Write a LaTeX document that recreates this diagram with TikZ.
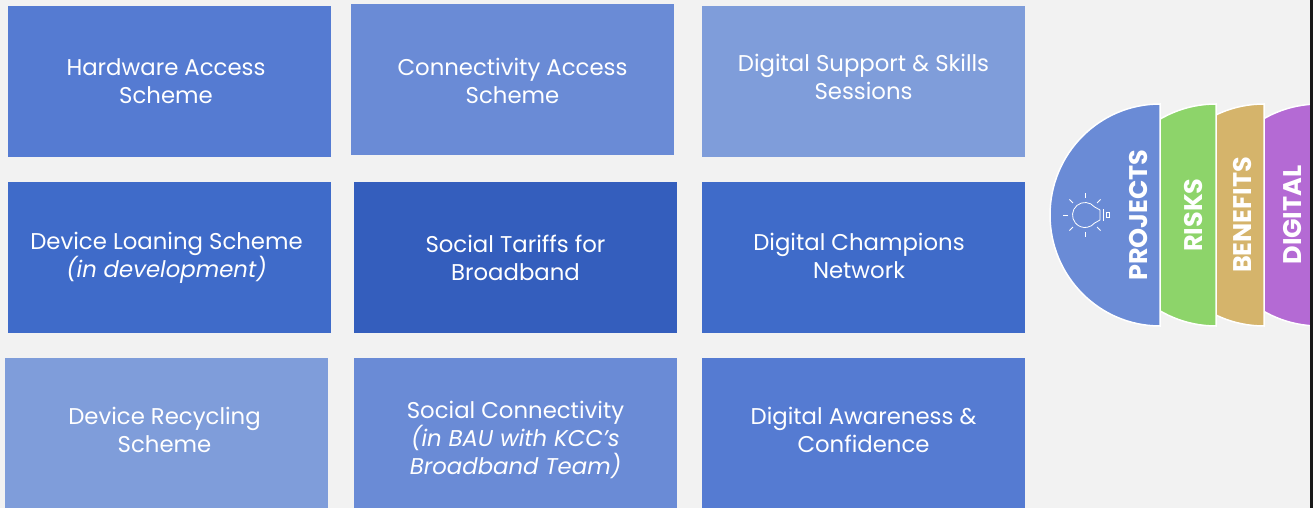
\documentclass[tikz,border=0pt]{standalone}
\usepackage{fontspec}
\setmainfont{Poppins}
\definecolor{bg}{HTML}{F2F2F2}
\definecolor{tileA}{HTML}{557BD2}
\definecolor{tileB}{HTML}{6A8BD6}
\definecolor{tileC}{HTML}{7F9DDA}
\definecolor{tileD}{HTML}{3F6BC9}
\definecolor{tileE}{HTML}{345EBD}
\definecolor{riskcol}{HTML}{8DD46A}
\definecolor{benefitcol}{HTML}{D5B46B}
\definecolor{digitalcol}{HTML}{B46AD4}
\definecolor{edge}{HTML}{1A1A1A}

\begin{document}
\begin{tikzpicture}[x=1pt,y=1pt,
  tile/.style={rectangle, inner sep=0pt, minimum width=323pt, minimum height=151pt, fill=#1},
  caption/.style={text=white, align=center, font=\fontsize{22.8}{28}\selectfont},
  tab/.style={fill=#1, draw=white, line width=1.5pt},
  tabtext/.style={text=white, rotate=90, font=\fontsize{25.5}{25.5}\selectfont\bfseries},
  bulb/.style={draw=white, line width=0.8pt}]
  \fill[bg] (0,0) rectangle (1313,508);
  \clip (0,0) rectangle (1313,508);

  \node[tile=tileA] (hw)   at (169.5,426.5) {};
  \node[tile=tileB] (conn) at (512.5,428.5) {};
  \node[tile=tileC] (dss)  at (863.5,426.5) {};
  \node[tile=tileD] (loan) at (169.5,250.5) {};
  \node[tile=tileE] (st)   at (515.5,250.5) {};
  \node[tile=tileD] (dcn)  at (863.5,250.5) {};
  \node[tile=tileC] (rec)  at (166.5,74.5) {};
  \node[tile=tileB] (sc)   at (515.5,74.5) {};
  \node[tile=tileA] (dac)  at (863.5,74.5) {};

  \node[caption] (hwt)   at ([xshift=-3.5pt]hw)              {Hardware Access\\Scheme};
  \node[caption] (connt) at ([yshift=-1.5pt]conn)            {Connectivity Access\\Scheme};
  \node[caption] (dsst)  at ([yshift=4.5pt]dss)              {Digital Support \& Skills\\Sessions};
  \node[caption] (loant) at ([xshift=-3pt]loan)              {Device Loaning Scheme\\\textit{(in development)}};
  \node[caption] (stt)   at (st)                             {Social Tariffs for\\Broadband};
  \node[caption] (dcnt)  at ([xshift=-4.5pt,yshift=2pt]dcn)  {Digital Champions\\Network};
  \node[caption] (rect)  at ([xshift=-2pt,yshift=4pt]rec)    {Device Recycling\\Scheme};
  \node[caption] (sct)   at ([yshift=-6pt]sc)                {Social Connectivity\\\textit{(in BAU with KCC’s}\\\textit{Broadband Team)}};
  \node[caption] (dact)  at ([yshift=4pt]dac)                {Digital Awareness \&\\Confidence};

  \path[tab=digitalcol] (1319,404) arc[start angle=90, end angle=270, radius=111pt] -- cycle;
  \path[tab=benefitcol] (1264,404) arc[start angle=90, end angle=270, radius=111pt] -- cycle;
  \path[tab=riskcol]    (1216,404) arc[start angle=90, end angle=270, radius=111pt] -- cycle;
  \path[tab=tileB]      (1160,404) arc[start angle=90, end angle=270, x radius=110pt, y radius=111pt] -- cycle;

  \node[tabtext] (proj) at (1138,293) {PROJECTS};
  \node[tabtext] (risk) at (1193,293) {RISKS};
  \node[tabtext] (ben)  at (1242,293) {BENEFITS};
  \node[tabtext] (dig)  at (1292,293) {DIGITAL};

  \coordinate (bc) at (1085,293);
  \draw[bulb] (bc) ++(40:12.5pt) arc[start angle=40, end angle=320, radius=12.5pt]
    -- (1100,288) -- (1100,298) -- cycle;
  \draw[bulb] (1103.5,287) -- (1103.5,299);
  \draw[bulb, line width=0.6pt] (1106.5,290.5) rectangle (1109,295.5);
  \foreach \a in {45,90,...,315}
    \draw[bulb] ([shift={(\a:17pt)}]bc) -- ([shift={(\a:22pt)}]bc);

  \fill[edge] (1310,0) rectangle (1313,508);
\end{tikzpicture}
\end{document}
